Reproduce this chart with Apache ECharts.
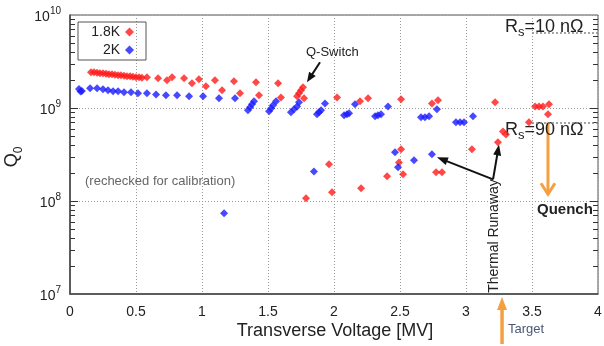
<!DOCTYPE html>
<html><head><meta charset="utf-8">
<script src="https://cdn.jsdelivr.net/npm/echarts@6/dist/echarts.min.js"></script>
<style>html,body{margin:0;padding:0;background:#fff}#c{width:604px;height:346px}</style>
</head><body><div id="c"></div>
<script>
// ---- data (Transverse Voltage [MV], Q0) ----
const seriesNames = ['1.8K', '2K'];
const red18K = [
  [0.159,2.42e9],[0.182,2.42e9],[0.205,2.39e9],[0.227,2.36e9],[0.25,2.36e9],[0.273,2.33e9],
  [0.295,2.30e9],[0.318,2.30e9],[0.341,2.28e9],[0.364,2.25e9],[0.386,2.25e9],[0.409,2.22e9],
  [0.432,2.19e9],[0.455,2.19e9],[0.477,2.17e9],[0.5,2.14e9],[0.523,2.14e9],[0.545,2.11e9],
  [0.583,2.14e9],[0.667,2.09e9],[0.735,1.99e9],[0.773,2.14e9],[0.864,2.09e9],[0.924,1.85e9],
  [0.977,2.04e9],[1.03,1.71e9],[1.098,1.99e9],[1.152,1.55e9],[1.242,1.94e9],[1.288,1.44e9],
  [1.409,1.89e9],[1.432,1.37e9],[1.576,1.85e9],[1.598,1.30e9],[1.72,1.34e9],[1.735,1.44e9],
  [1.75,1.55e9],[1.765,1.67e9],[1.773,1.27e9],[2.023,1.30e9],[2.197,1.18e9],[2.258,1.27e9],
  [2.508,1.24e9],[2.742,1.12e9],[2.788,1.21e9],[3.22,1.15e9],[3.523,1.04e9],[3.553,1.04e9],
  [3.583,1.04e9],[3.629,1.10e9],[3.621,8.55e8],[3.477,7.02e8],[3.28,5.6e8],[3.303,5.2e8],
  [3.242,4.27e8],[3.045,3.6e8],[2.508,3.6e8],[2.492,2.6e8],[2.523,1.94e8],[2.773,2.04e8],
  [2.818,2.04e8],[2.402,1.85e8],[2.205,1.37e8],[1.962,2.48e8],[1.985,1.24e8],[1.788,1.07e8]
];
const blue2K = [
  [0.068,1.6e9],[0.09,1.52e9],[0.08,1.5e9],[0.152,1.63e9],[0.205,1.63e9],[0.25,1.59e9],
  [0.288,1.55e9],[0.326,1.51e9],[0.364,1.51e9],[0.409,1.48e9],[0.462,1.48e9],[0.515,1.44e9],
  [0.583,1.44e9],[0.652,1.40e9],[0.727,1.37e9],[0.811,1.37e9],[0.902,1.34e9],[1.008,1.34e9],
  [1.129,1.27e9],[1.25,1.27e9],
  [1.348,9.45e8],[1.364,1.02e9],[1.379,1.10e9],[1.394,1.18e9],
  [1.508,9.2e8],[1.523,9.9e8],[1.538,1.07e9],[1.561,1.18e9],
  [1.674,9.0e8],[1.697,9.7e8],[1.72,1.04e9],[1.735,1.15e9],
  [1.871,8.55e8],[1.886,9.0e8],[1.902,9.45e8],[1.932,1.12e9],
  [2.076,8.34e8],[2.098,8.55e8],[2.114,8.77e8],[2.159,1.10e9],
  [2.311,8.14e8],[2.333,8.34e8],[2.356,8.55e8],[2.409,1.04e9],
  [2.659,7.94e8],[2.689,7.94e8],[2.72,8.14e8],[2.78,9.7e8],
  [2.924,7.02e8],[2.955,7.02e8],[2.985,7.02e8],[3.053,8.14e8],
  [2.462,3.34e8],[2.606,2.74e8],[2.485,2.3e8],[2.742,3.18e8],[1.848,2.08e8],[1.167,7.4e7]
];
const xTickLabels = ['0','0.5','1','1.5','2','2.5','3','3.5','4'];
const yTickExponents = [7, 8, 9, 10];
const yMinorTicks = [2e7,3e7,4e7,5e7,6e7,7e7,8e7,9e7,2e8,3e8,4e8,5e8,6e8,7e8,8e8,9e8,2e9,3e9,4e9,5e9,6e9,7e9,8e9,9e9];
const yMajorTicks = [1e8, 1e9];
// R_s reference levels (Q0 = G / R_s)
const rsLevels = [{ name: '10', q: 6.5e9 }, { name: '90', q: 7.0e8 }];
// annotation arrows in data coordinates
const qSwitchArrow = [[1.894, 3.1e9], [1.795, 1.89e9]];
const runawayArrows = [[[3.205, 1.71e8], [2.78, 2.95e8]], [[3.205, 1.71e8], [3.25, 4.06e8]]];
const quenchArrow = [[3.621, 7.0e8], [3.621, 1.18e8]];
const targetX = 3.273;

const chart = echarts.init(document.getElementById('c'), null, { renderer: 'canvas' });
const FONT = '"Liberation Sans", Arial, sans-serif';

chart.setOption({
  animation: false,
  backgroundColor: '#fff',
  textStyle: { fontFamily: FONT },
  grid: { left: 70, top: 15, right: 6, bottom: 52, show: true, borderColor: '#555', borderWidth: 1, outerBoundsMode: 'none' },
  legend: {
    left: 78, top: 22, orient: 'vertical', align: 'right',
    data: seriesNames,
    borderColor: '#555', borderWidth: 1, borderRadius: 0,
    padding: [3, 12, 3, 10], itemGap: 4, itemWidth: 9, itemHeight: 9,
    textStyle: { fontSize: 14, lineHeight: 14, color: '#222', fontFamily: FONT, width: 32, align: 'right' }
  },
  xAxis: {
    type: 'value', min: 0, max: 4, interval: 0.5,
    axisLine: { show: true, lineStyle: { color: '#444', width: 1.5 } },
    axisTick: { show: false },
    axisLabel: { fontSize: 14, color: '#222', margin: 11, formatter: (v) => xTickLabels[Math.round(v * 2)] },
    splitLine: { show: true, lineStyle: { color: '#999', type: [1, 2], width: 1 } }
  },
  yAxis: {
    type: 'log', logBase: 10, min: 1e7, max: 1e10,
    axisLine: { show: true, lineStyle: { color: '#444', width: 1.5 } },
    axisTick: { show: false },
    axisLabel: {
      margin: 9, color: '#222',
      formatter: (v) => {
        const e = Math.round(Math.log10(v));
        return yTickExponents.includes(e) ? '{b|10}{s|' + e + '}' : '';
      },
      rich: {
        b: { fontSize: 14, color: '#222', verticalAlign: 'bottom', lineHeight: 18, fontFamily: FONT },
        s: { fontSize: 10, color: '#222', verticalAlign: 'top', fontFamily: FONT }
      }
    },
    splitLine: { show: true, lineStyle: { color: '#999', type: [1, 2], width: 1 } }
  },
  series: [
    {
      name: seriesNames[0], type: 'scatter', symbol: 'diamond', symbolSize: 8,
      itemStyle: { color: '#ff1a1a' }, data: red18K, z: 3,
      markLine: {
        silent: true, symbol: ['none', 'none'], label: { show: false },
        lineStyle: { color: '#888', type: [2, 2], width: 1.5 },
        data: rsLevels.map(r => [{ coord: [3.5, r.q] }, { coord: [4, r.q] }])
      }
    },
    {
      name: seriesNames[1], type: 'scatter', symbol: 'diamond', symbolSize: 8,
      itemStyle: { color: '#1a1aff' }, data: blue2K, z: 3
    }
  ]
});

function px(p) { return chart.convertToPixel({ gridIndex: 0 }, p); }
function arrow(p1, p2, color, lw, headL, headW, open) {
  const dx = p2[0] - p1[0], dy = p2[1] - p1[1], len = Math.hypot(dx, dy);
  const ux = dx / len, uy = dy / len, nx = -uy, ny = ux;
  const bx = p2[0] - ux * headL, by = p2[1] - uy * headL;
  const a = [bx + nx * headW / 2, by + ny * headW / 2], b = [bx - nx * headW / 2, by - ny * headW / 2];
  const end = open ? p2 : [bx + ux * 2, by + uy * 2];
  const els = [{ type: 'line', shape: { x1: p1[0], y1: p1[1], x2: end[0], y2: end[1] }, style: { stroke: color, lineWidth: lw } }];
  if (open) els.push({ type: 'polyline', shape: { points: [a, p2, b] }, style: { stroke: color, lineWidth: lw, fill: null } });
  else els.push({ type: 'polygon', shape: { points: [p2, a, b] }, style: { fill: color } });
  return els;
}
const BLACK = '#111', ORANGE = '#f5a040';
let g = [];
// y-axis ticks (log minor + major) on both sides, inward
const tickList = yMinorTicks.map(v => [v, 5]).concat(yMajorTicks.map(v => [v, 8]));
tickList.forEach(function (t) {
  const v = t[0], len = t[1];
  const p = px([0, v]), q = px([4, v]);
  const y = Math.round(p[1]) + 0.5;
  g.push({ type: 'line', shape: { x1: p[0], y1: y, x2: p[0] + len, y2: y }, style: { stroke: '#333', lineWidth: 1 } });
  g.push({ type: 'line', shape: { x1: q[0], y1: y, x2: q[0] - len, y2: y }, style: { stroke: '#333', lineWidth: 1 } });
});
g = g.concat(arrow(px(qSwitchArrow[0]), px(qSwitchArrow[1]), BLACK, 2, 10, 8, false));
runawayArrows.forEach(a => { g = g.concat(arrow(px(a[0]), px(a[1]), BLACK, 2, 11, 8, false)); });
g = g.concat(arrow(px(quenchArrow[0]), px(quenchArrow[1]), ORANGE, 3, 11, 14, true));
const tx = px([targetX, 1e7])[0];
g = g.concat(arrow([tx, 344], [tx, 297], ORANGE, 3.5, 13, 10, false));
const txt = (x, y, text, o) => Object.assign({ type: 'text', x, y, silent: true,
  style: Object.assign({ text, fontFamily: FONT, fontSize: 13, fill: '#222', align: 'left', verticalAlign: 'middle' }, o.style || {}) }, o.el || {});
g.push(txt(306, 52, 'Q-Switch', {}));
g.push(txt(85, 181, '(rechecked for calibration)', { style: { fill: '#666', fontSize: 13 } }));
g.push(txt(537, 210, 'Quench', { style: { fontWeight: 'bold', fontSize: 15, fill: '#222' } }));
g.push(txt(494, 236, 'Thermal Runaway', { style: { fontSize: 14, align: 'center' }, el: { rotation: Math.PI / 2 } }));
g.push(txt(508, 329, 'Target', { style: { fontSize: 13, fill: '#4a5878' } }));
const rsRich = { a: { fontSize: 18, fill: '#222', fontFamily: FONT, verticalAlign: 'top', lineHeight: 21 },
                 s: { fontSize: 13, fill: '#222', fontFamily: FONT, verticalAlign: 'bottom', lineHeight: 21 } };
g.push({ type: 'text', x: 505, y: 18, silent: true, style: { text: '{a|R}{s|s}{a|=' + rsLevels[0].name + ' nΩ}', rich: rsRich, verticalAlign: 'top' } });
g.push({ type: 'text', x: 505, y: 121, silent: true, style: { text: '{a|R}{s|s}{a|=' + rsLevels[1].name + ' nΩ}', rich: rsRich, verticalAlign: 'top' } });
// axis titles
g.push(txt(335, 331, 'Transverse Voltage [MV]', { style: { fontSize: 18, align: 'center' } }));
g.push({ type: 'text', x: 14, y: 157, rotation: Math.PI / 2, silent: true,
  style: { text: '{q|Q}{o|0}', align: 'center', verticalAlign: 'middle',
    rich: { q: { fontSize: 18, fill: '#222', fontFamily: FONT, verticalAlign: 'top', lineHeight: 22 },
            o: { fontSize: 12, fill: '#222', fontFamily: FONT, verticalAlign: 'bottom', lineHeight: 22 } } } });
chart.setOption({ graphic: { elements: g } });
</script></body></html>
